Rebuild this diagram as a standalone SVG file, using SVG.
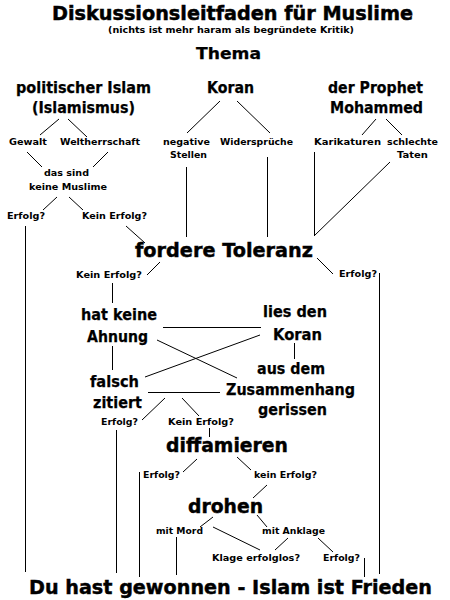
<svg xmlns="http://www.w3.org/2000/svg" width="450" height="600" viewBox="0 0 450 600">
<style>
text{font-family:"DejaVu Sans","Liberation Sans",sans-serif;font-weight:bold;fill:#000}
.s{font-size:9.5px}
.st{font-size:8.8px}
.m{font-size:15.5px;stroke:#000;stroke-width:0.25}
.l{font-size:20px;stroke:#000;stroke-width:0.45}
.t{font-size:20px;stroke:#000;stroke-width:0.5}
#connectors line{stroke:#000;stroke-width:1;fill:none}
</style>
<rect width="450" height="600" fill="#fff"/>
<g id="title">
<text class="t" x="52" y="20" textLength="361" lengthAdjust="spacingAndGlyphs">Diskussionsleitfaden für Muslime</text>
<text class="st" x="108" y="33" textLength="246" lengthAdjust="spacingAndGlyphs">(nichts ist mehr haram als begründete Kritik)</text>
</g>
<g id="thema"><text class="m" x="196" y="59" textLength="65" lengthAdjust="spacingAndGlyphs">Thema</text></g>
<g id="politischer-islam">
<text class="m" x="16" y="93" textLength="135" lengthAdjust="spacingAndGlyphs">politischer Islam</text>
<text class="m" x="32" y="113" textLength="103" lengthAdjust="spacingAndGlyphs">(Islamismus)</text>
</g>
<g id="koran-top"><text class="m" x="207" y="93" textLength="47" lengthAdjust="spacingAndGlyphs">Koran</text></g>
<g id="prophet">
<text class="m" x="328" y="93" textLength="95" lengthAdjust="spacingAndGlyphs">der Prophet</text>
<text class="m" x="330" y="113" textLength="93" lengthAdjust="spacingAndGlyphs">Mohammed</text>
</g>
<g id="gewalt"><text class="s" x="9" y="145" textLength="38" lengthAdjust="spacingAndGlyphs">Gewalt</text></g>
<g id="weltherrschaft"><text class="s" x="60" y="145" textLength="80" lengthAdjust="spacingAndGlyphs">Weltherrschaft</text></g>
<g id="negative-stellen">
<text class="s" x="163" y="145" textLength="47" lengthAdjust="spacingAndGlyphs">negative</text>
<text class="s" x="170" y="158" textLength="37" lengthAdjust="spacingAndGlyphs">Stellen</text>
</g>
<g id="widersprueche"><text class="s" x="220" y="145" textLength="73" lengthAdjust="spacingAndGlyphs">Widersprüche</text></g>
<g id="karikaturen"><text class="s" x="314" y="145" textLength="67" lengthAdjust="spacingAndGlyphs">Karikaturen</text></g>
<g id="schlechte-taten">
<text class="s" x="387" y="145" textLength="51" lengthAdjust="spacingAndGlyphs">schlechte</text>
<text class="s" x="397" y="158" textLength="31" lengthAdjust="spacingAndGlyphs">Taten</text>
</g>
<g id="keine-muslime">
<text class="s" x="44" y="176" textLength="45" lengthAdjust="spacingAndGlyphs">das sind</text>
<text class="s" x="29" y="190" textLength="78" lengthAdjust="spacingAndGlyphs">keine Muslime</text>
</g>
<g id="erfolg1"><text class="s" x="7" y="219" textLength="38" lengthAdjust="spacingAndGlyphs">Erfolg?</text></g>
<g id="keinerfolg1"><text class="s" x="82" y="219" textLength="65" lengthAdjust="spacingAndGlyphs">Kein Erfolg?</text></g>
<g id="toleranz"><text class="l" x="135" y="257" textLength="178" lengthAdjust="spacingAndGlyphs">fordere Toleranz</text></g>
<g id="keinerfolg2"><text class="s" x="76" y="278" textLength="66" lengthAdjust="spacingAndGlyphs">Kein Erfolg?</text></g>
<g id="erfolg2"><text class="s" x="339" y="277" textLength="38" lengthAdjust="spacingAndGlyphs">Erfolg?</text></g>
<g id="keine-ahnung">
<text class="m" x="81" y="320" textLength="76" lengthAdjust="spacingAndGlyphs">hat keine</text>
<text class="m" x="87" y="342" textLength="61" lengthAdjust="spacingAndGlyphs">Ahnung</text>
</g>
<g id="lies-koran">
<text class="m" x="263" y="317" textLength="64" lengthAdjust="spacingAndGlyphs">lies den</text>
<text class="m" x="273" y="340" textLength="49" lengthAdjust="spacingAndGlyphs">Koran</text>
</g>
<g id="zusammenhang">
<text class="m" x="257" y="374" textLength="68" lengthAdjust="spacingAndGlyphs">aus dem</text>
<text class="m" x="226" y="395" textLength="129" lengthAdjust="spacingAndGlyphs">Zusammenhang</text>
<text class="m" x="258" y="415" textLength="69" lengthAdjust="spacingAndGlyphs">gerissen</text>
</g>
<g id="falsch-zitiert">
<text class="m" x="90" y="387" textLength="49" lengthAdjust="spacingAndGlyphs">falsch</text>
<text class="m" x="93" y="408" textLength="49" lengthAdjust="spacingAndGlyphs">zitiert</text>
</g>
<g id="erfolg3"><text class="s" x="101" y="425" textLength="37" lengthAdjust="spacingAndGlyphs">Erfolg?</text></g>
<g id="keinerfolg3"><text class="s" x="168" y="425" textLength="66" lengthAdjust="spacingAndGlyphs">Kein Erfolg?</text></g>
<g id="diffamieren"><text class="l" x="166" y="452" textLength="122" lengthAdjust="spacingAndGlyphs">diffamieren</text></g>
<g id="erfolg4"><text class="s" x="143" y="478" textLength="37" lengthAdjust="spacingAndGlyphs">Erfolg?</text></g>
<g id="keinerfolg4"><text class="s" x="254" y="478" textLength="63" lengthAdjust="spacingAndGlyphs">kein Erfolg?</text></g>
<g id="drohen"><text class="l" x="188" y="513" textLength="75" lengthAdjust="spacingAndGlyphs">drohen</text></g>
<g id="mit-mord"><text class="s" x="156" y="534" textLength="47" lengthAdjust="spacingAndGlyphs">mit Mord</text></g>
<g id="mit-anklage"><text class="s" x="262" y="534" textLength="63" lengthAdjust="spacingAndGlyphs">mit Anklage</text></g>
<g id="klage-erfolglos"><text class="s" x="212" y="561" textLength="88" lengthAdjust="spacingAndGlyphs">Klage erfolglos?</text></g>
<g id="erfolg5"><text class="s" x="323" y="561" textLength="37" lengthAdjust="spacingAndGlyphs">Erfolg?</text></g>
<g id="gewonnen"><text class="l" x="29" y="594" textLength="403" lengthAdjust="spacingAndGlyphs">Du hast gewonnen - Islam ist Frieden</text></g>
<g id="connectors">
<line x1="59" y1="119" x2="40" y2="135"/>
<line x1="68" y1="119" x2="87" y2="137"/>
<line x1="220" y1="101" x2="187" y2="133"/>
<line x1="237" y1="101" x2="270" y2="133"/>
<line x1="376" y1="119" x2="362" y2="135"/>
<line x1="386" y1="119" x2="402" y2="135"/>
<line x1="27" y1="152" x2="42" y2="167"/>
<line x1="108" y1="152" x2="93" y2="167"/>
<line x1="57" y1="197" x2="43" y2="210"/>
<line x1="69" y1="197" x2="83" y2="210"/>
<line x1="25.5" y1="226" x2="25.5" y2="572"/>
<line x1="126" y1="226" x2="145" y2="243"/>
<line x1="186.5" y1="167" x2="186.5" y2="237"/>
<line x1="267.5" y1="157" x2="267.5" y2="237"/>
<line x1="314.5" y1="152" x2="314.5" y2="236"/>
<line x1="314" y1="236" x2="390" y2="162"/>
<line x1="160" y1="262" x2="147" y2="275"/>
<line x1="317" y1="258" x2="333" y2="274"/>
<line x1="379.5" y1="273" x2="379.5" y2="574"/>
<line x1="112.5" y1="283" x2="112.5" y2="303"/>
<line x1="163" y1="327.5" x2="261" y2="327.5"/>
<line x1="157" y1="340" x2="237" y2="378"/>
<line x1="260" y1="335" x2="145" y2="377"/>
<line x1="112.5" y1="346" x2="112.5" y2="370"/>
<line x1="294.5" y1="343" x2="294.5" y2="359"/>
<line x1="148" y1="392.5" x2="220" y2="392.5"/>
<line x1="165" y1="398" x2="142" y2="420"/>
<line x1="182" y1="398" x2="199" y2="416"/>
<line x1="116.5" y1="430" x2="116.5" y2="573"/>
<line x1="209.5" y1="428" x2="209.5" y2="437"/>
<line x1="197" y1="459" x2="183" y2="472"/>
<line x1="237" y1="457" x2="251" y2="470"/>
<line x1="139.5" y1="472" x2="139.5" y2="577"/>
<line x1="267" y1="485" x2="253" y2="498"/>
<line x1="213" y1="517" x2="200" y2="527"/>
<line x1="257" y1="515" x2="267" y2="527"/>
<line x1="176.5" y1="537" x2="176.5" y2="575"/>
<line x1="213" y1="527" x2="260" y2="550"/>
<line x1="288" y1="538" x2="275" y2="550"/>
<line x1="318" y1="538" x2="333" y2="552"/>
<line x1="364.5" y1="558" x2="364.5" y2="577"/>
</g>
</svg>
